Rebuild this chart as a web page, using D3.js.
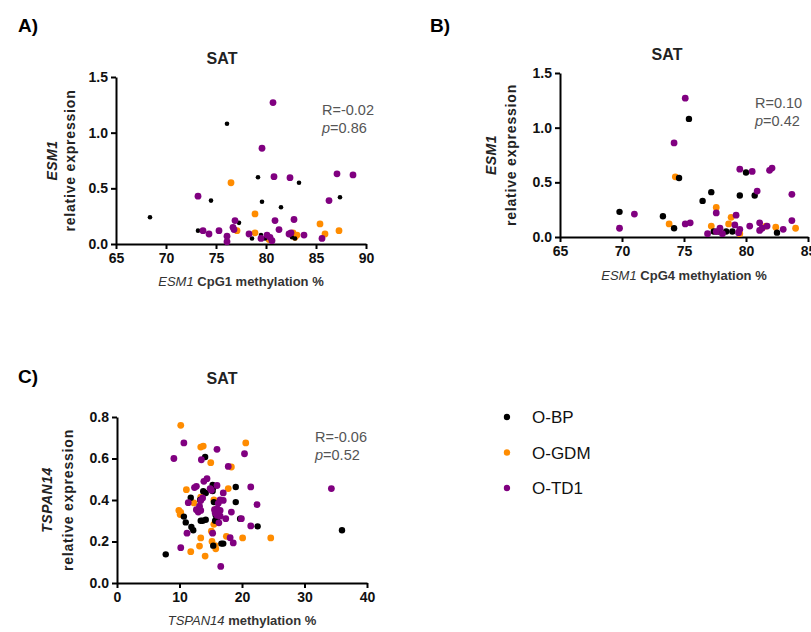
<!DOCTYPE html>
<html>
<head>
  <meta charset="utf-8">
  <script src="https://d3js.org/d3.v7.min.js"></script>
  <style>
    body { margin: 0; background: #fff; }
    text { font-family: Arial, "Liberation Sans", sans-serif; }
    .tick text { font-family: "Liberation Sans Narrow", Arial, sans-serif; font-weight: bold; font-size: 14px; fill: #111; }
    .domain, .tick line { stroke: #000; stroke-width: 2px; }
  </style>
</head>
<body>
<script>
// groups
var groups = ["O-BP", "O-GDM", "O-TD1"];
var colors = ["#000000", "#ff8c00", "#800080"];

// panel A: ESM1 CpG1 methylation % vs ESM1 relative expression
var aBP = [[76.1,1.08],[79.2,0.6],[83.3,0.55],[74.5,0.39],[79.6,0.38],[87.4,0.42],[81.5,0.33],[68.4,0.24],
  [77.3,0.19],[73.2,0.12],[78.6,0.05],[79.9,0.05],[79.5,0.08],[82.6,0.06],[82.9,0.05]];
var aGDM = [[76.5,0.55],[78.9,0.27],[78.9,0.1],[77.1,0.12],[85.4,0.18],[85.9,0.09],[87.3,0.12],
  [82.7,0.1],[83.1,0.08],[82.9,0.06],[80.3,0.04]];
var aTD1 = [[80.7,1.27],[79.6,0.86],[80.8,0.605],[82.4,0.596],[87.1,0.63],[88.7,0.62],[73.2,0.43],[86.3,0.39],
  [80.9,0.21],[82.8,0.22],[76.9,0.21],[76.7,0.15],[76.8,0.13],[81.3,0.13],[73.7,0.12],[74.3,0.09],
  [75.3,0.12],[76.1,0.07],[76.1,0.02],[78.3,0.09],[79.5,0.05],[80.1,0.08],[80.4,0.06],[80.6,0.03],
  [82.3,0.09],[83.8,0.08],[85.6,0.05],[82.5,0.1]];

// panel B: ESM1 CpG4 methylation %
var bBP = [[75.4,1.08],[74.6,0.54],[69.8,0.23],[73.3,0.19],[74.2,0.08],[77.2,0.41],[76.5,0.33],[80.0,0.59],
  [79.5,0.38],[80.7,0.38],[82.5,0.04],[77.4,0.05],[77.8,0.05],[78.4,0.05],[78.9,0.05]];
var bGDM = [[74.3,0.55],[73.8,0.12],[77.6,0.27],[77.2,0.1],[78.8,0.18],[78.6,0.12],[79.5,0.03],[82.4,0.09],
  [84.0,0.08],[81.6,0.1]];
var bTD1 = [[75.1,1.27],[74.2,0.86],[79.5,0.62],[80.5,0.6],[81.9,0.61],[82.1,0.63],[80.9,0.42],[83.7,0.39],
  [83.7,0.15],[71.0,0.21],[69.8,0.08],[75.1,0.12],[75.5,0.13],[77.6,0.22],[79.2,0.2],[76.9,0.03],
  [77.9,0.08],[78.1,0.03],[77.6,0.05],[79.1,0.11],[79.5,0.07],[79.4,0.04],[80.3,0.1],[81.1,0.13],
  [81.3,0.08],[81.1,0.06],[81.7,0.1],[83.0,0.07]];

// panel C: TSPAN14 methylation %
var cBP = [[14.1,0.607],[19.0,0.463],[15.3,0.472],[15.4,0.46],[13.8,0.442],[14.2,0.434],[15.3,0.443],[11.8,0.411],
  [13.3,0.4],[19.0,0.39],[15.5,0.39],[10.7,0.32],[11.0,0.292],[11.9,0.27],[12.2,0.254],[13.4,0.3],
  [14.2,0.305],[13.7,0.3],[15.7,0.3],[16.0,0.31],[15.8,0.326],[19.7,0.31],[22.5,0.273],[36.0,0.254],
  [16.7,0.19],[17.0,0.19],[15.4,0.18],[7.8,0.138]];
var cGDM = [[10.2,0.76],[20.6,0.675],[13.4,0.655],[13.8,0.66],[15.0,0.58],[18.3,0.559],[11.1,0.45],[17.8,0.455],
  [12.3,0.386],[9.9,0.35],[10.2,0.34],[10.1,0.33],[15.7,0.353],[15.5,0.4],[13.4,0.414],[15.1,0.25],
  [15.5,0.283],[17.5,0.225],[13.4,0.217],[20.1,0.217],[24.6,0.217],[13.2,0.178],[15.2,0.2],[15.7,0.18],
  [15.8,0.165],[11.8,0.151],[14.1,0.13]];
var cTD1 = [[9.1,0.6],[10.7,0.675],[16.0,0.644],[20.4,0.623],[13.5,0.594],[17.8,0.562],[14.4,0.503],[13.9,0.49],
  [12.7,0.466],[12.4,0.46],[16.0,0.47],[14.9,0.455],[15.1,0.447],[21.4,0.463],[34.3,0.455],[13.4,0.398],
  [13.7,0.41],[11.4,0.387],[17.0,0.434],[16.5,0.4],[17.0,0.398],[16.2,0.384],[22.4,0.378],[12.7,0.353],
  [13.0,0.342],[15.6,0.353],[16.0,0.358],[16.5,0.35],[15.7,0.338],[16.0,0.326],[16.5,0.322],[17.4,0.31],
  [18.3,0.342],[19.9,0.31],[21.4,0.275],[11.2,0.24],[15.3,0.24],[18.1,0.218],[18.6,0.193],[10.2,0.17],
  [16.6,0.08],[13.4,0.35],[13.2,0.37],[16.3,0.29]];

var panels = [
  { tag: "A)", tagX: 18, tagY: 32, sets: [aBP, aGDM, aTD1], xDom: [65, 90], yDom: [0, 1.5],
    xR: [116, 366], yR: [244, 77], xTicks: [65, 70, 75, 80, 85, 90], yTicks: [0, 0.5, 1, 1.5],
    gene: "ESM1", xRest: " CpG1 methylation %", stat: ["R=-0.02", "0.86"], statX: 322, statY: 115,
    titleX: 222, titleY: 64, yl1: 52, yl2: 70, xlY: 286, bpR: 2.3 },
  { tag: "B)", tagX: 430, tagY: 32, sets: [bBP, bGDM, bTD1], xDom: [65, 85], yDom: [0, 1.5],
    xR: [560, 808], yR: [237, 73], xTicks: [65, 70, 75, 80, 85], yTicks: [0, 0.5, 1, 1.5],
    gene: "ESM1", xRest: " CpG4 methylation %", stat: ["R=0.10", "0.42"], statX: 755, statY: 108,
    titleX: 667, titleY: 60, yl1: 491, yl2: 511, xlY: 280, bpR: 3.2 },
  { tag: "C)", tagX: 18, tagY: 383, sets: [cBP, cGDM, cTD1], xDom: [0, 40], yDom: [0, 0.8],
    xR: [117, 367], yR: [583, 417], xTicks: [0, 10, 20, 30, 40], yTicks: [0, 0.2, 0.4, 0.6, 0.8],
    gene: "TSPAN14", xRest: " methylation %", stat: ["R=-0.06", "0.52"], statX: 315, statY: 442,
    titleX: 222, titleY: 384, yl1: 47, yl2: 68, xlY: 625, bpR: 3.2 }
];

var svg = d3.select("body").append("svg")
  .attr("width", 811)
  .attr("height", 632);

panels.forEach(function(p) {
  var x = d3.scaleLinear().domain(p.xDom).range(p.xR);
  var y = d3.scaleLinear().domain(p.yDom).range(p.yR);
  var g = svg.append("g");

  g.append("text").attr("x", p.tagX).attr("y", p.tagY)
    .style("font-size", "19px").style("font-weight", "bold").text(p.tag);

  var midX = (p.xR[0] + p.xR[1]) / 2;
  var midY = (p.yR[0] + p.yR[1]) / 2;
  g.append("text").attr("x", p.titleX).attr("y", p.titleY)
    .attr("text-anchor", "middle")
    .style("font-size", "16px").style("font-weight", "bold").style("fill", "#222").text("SAT");

  g.append("g").attr("transform", "translate(0," + p.yR[0] + ")")
    .call(d3.axisBottom(x).tickValues(p.xTicks).tickSize(5).tickSizeOuter(0).tickPadding(4));
  g.append("g").attr("transform", "translate(" + p.xR[0] + ",0)")
    .call(d3.axisLeft(y).tickValues(p.yTicks).tickFormat(d3.format(".1f")).tickSize(5).tickSizeOuter(0).tickPadding(3));

  // y label, two lines
  g.append("text").attr("transform", "translate(" + p.yl1 + "," + midY + ") rotate(-90)")
    .attr("text-anchor", "middle").attr("dy", "0.35em")
    .style("font-size", "14px").style("font-weight", "bold").style("font-style", "italic")
    .style("letter-spacing", "0.5px").style("fill", "#222").text(p.gene);
  g.append("text").attr("transform", "translate(" + p.yl2 + "," + midY + ") rotate(-90)")
    .attr("text-anchor", "middle").attr("dy", "0.35em")
    .style("font-size", "14px").style("font-weight", "bold")
    .style("letter-spacing", "0.8px").style("fill", "#222").text("relative expression");

  // x label
  var xl = g.append("text").attr("x", midX).attr("y", p.xlY).attr("text-anchor", "middle")
    .style("font-size", "13px").style("fill", "#333");
  xl.append("tspan").style("font-style", "italic").text(p.gene);
  xl.append("tspan").style("font-weight", "bold").text(p.xRest);

  // stats
  g.append("text").attr("x", p.statX).attr("y", p.statY)
    .style("font-size", "14.5px").style("fill", "#555").text(p.stat[0]);
  var pt = g.append("text").attr("x", p.statX).attr("y", p.statY + 18)
    .style("font-size", "14.5px").style("fill", "#555");
  pt.append("tspan").style("font-style", "italic").text("p");
  pt.append("tspan").text("=" + p.stat[1]);

  // points: orange, black, purple drawing order
  [1, 0, 2].forEach(function(k) {
    g.append("g").selectAll("circle")
      .data(p.sets[k])
      .enter()
      .append("circle")
      .attr("cx", function(d) { return x(d[0]); })
      .attr("cy", function(d) { return y(d[1]); })
      .attr("r", k === 0 ? p.bpR : 3.4)
      .attr("fill", colors[k]);
  });
});

// legend
var legend = svg.append("g").selectAll("g")
  .data(groups)
  .enter()
  .append("g")
  .attr("transform", function(d, i) { return "translate(507," + (417 + i * 35.5) + ")"; });
legend.append("circle").attr("r", 3.2).attr("fill", function(d, i) { return colors[i]; });
legend.append("text").attr("x", 25).attr("dy", "0.36em")
  .style("font-size", "17px").style("fill", "#111").text(function(d) { return d; });
</script>
</body>
</html>
